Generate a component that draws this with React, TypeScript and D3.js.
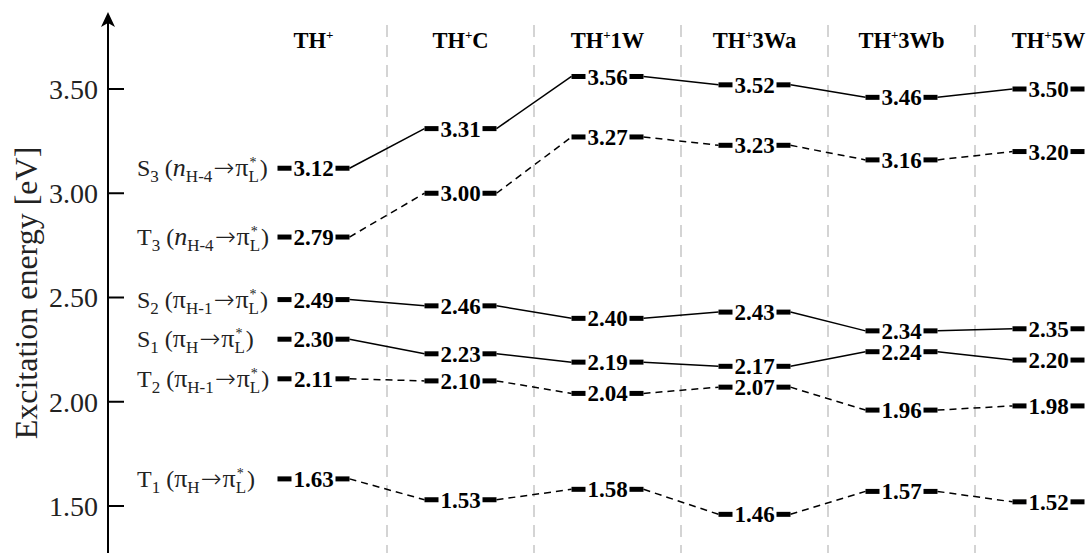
import React from 'react';
import * as d3 from 'd3';

// columns (systems)
const systems = ['TH+', 'TH+C', 'TH+1W', 'TH+3Wa', 'TH+3Wb', 'TH+5W'];

// excitation energies per state, one value per system
const S3 = [3.12, 3.31, 3.56, 3.52, 3.46, 3.5];
const T3 = [2.79, 3.0, 3.27, 3.23, 3.16, 3.2];
const S2 = [2.49, 2.46, 2.4, 2.43, 2.34, 2.35];
const S1 = [2.3, 2.23, 2.19, 2.17, 2.24, 2.2];
const T2 = [2.11, 2.1, 2.04, 2.07, 1.96, 1.98];
const T1 = [1.63, 1.53, 1.58, 1.46, 1.57, 1.52];

const yTicks = [1.5, 2.0, 2.5, 3.0, 3.5];

const states = [
  { spin: 'S', idx: '3', from: 'n', fromSub: 'H-4', values: S3, dashed: false },
  { spin: 'T', idx: '3', from: 'n', fromSub: 'H-4', values: T3, dashed: true },
  { spin: 'S', idx: '2', from: 'π', fromSub: 'H-1', values: S2, dashed: false },
  { spin: 'S', idx: '1', from: 'π', fromSub: 'H', values: S1, dashed: false },
  { spin: 'T', idx: '2', from: 'π', fromSub: 'H-1', values: T2, dashed: true },
  { spin: 'T', idx: '1', from: 'π', fromSub: 'H', values: T1, dashed: true },
];

const W = 1088;
const H = 553;
const axisX = 108;
const half = 36;

const App = () => {
  const y = d3.scaleLinear().domain([1.5, 3.5]).range([506, 89]);
  const x = d3.scaleBand().domain(systems).range([240, 1122]);
  const cx = (s: string) => (x(s) as number) + x.bandwidth() / 2;
  const fmt = d3.format('.2f');

  const dividers = systems.slice(1).map(s => x(s) as number);

  return (
    <svg
      width={W}
      height={H}
      style={{ position: 'absolute', left: 0, top: 0, background: '#fff', fontFamily: 'Liberation Serif' }}
    >
      {/* dashed column separators */}
      {dividers.map((d, i) => (
        <line key={i} x1={d} x2={d} y1={25} y2={H} stroke="#d4d4d4" strokeWidth={2} strokeDasharray="12,8" />
      ))}

      {/* column headers */}
      {systems.map(s => (
        <text key={s} x={cx(s)} y={48} textAnchor="middle" fontWeight="bold" fontSize={22.5}>
          TH
          <tspan fontSize={13} dy={-9}>+</tspan>
          <tspan dy={9}>{s.slice(3)}</tspan>
        </text>
      ))}

      {/* y axis */}
      <line x1={axisX} x2={axisX} y1={16} y2={H} stroke="#000" strokeWidth={2} />
      <path d={`M${axisX},12 L${axisX + 7},27 L${axisX},23 L${axisX - 7},27 Z`} fill="#000" />
      {yTicks.map(t => (
        <g key={t}>
          <line x1={axisX} x2={axisX + 16} y1={y(t)} y2={y(t)} stroke="#000" strokeWidth={2} />
          <text x={98} y={y(t)} dy="0.35em" textAnchor="end" fontSize={28} fill="#222">
            {fmt(t)}
          </text>
        </g>
      ))}
      <text
        transform={`translate(26,293) rotate(-90)`}
        textAnchor="middle"
        dy="0.35em"
        fontSize={32}
        fill="#222"
      >
        Excitation energy [eV]
      </text>

      {/* connecting lines */}
      {states.map((st, si) => (
        <g key={'c' + si}>
          {st.values.slice(1).map((v, i) => (
            <line
              key={i}
              x1={cx(systems[i]) + half}
              y1={y(st.values[i])}
              x2={cx(systems[i + 1]) - half}
              y2={y(v)}
              stroke="#000"
              strokeWidth={1.5}
              strokeDasharray={st.dashed ? '7,5' : undefined}
            />
          ))}
        </g>
      ))}

      {/* levels */}
      {states.map((st, si) => (
        <g key={'l' + si}>
          {st.values.map((v, i) => {
            const c = cx(systems[i]);
            return (
              <g key={i}>
                <rect x={c - half} y={y(v) - 2.5} width={half * 2} height={5} fill="#000" />
                <rect x={c - 22} y={y(v) - 10} width={44} height={20} fill="#fff" />
                <text x={c} y={y(v)} dy="0.35em" textAnchor="middle" fontWeight="bold" fontSize={23}>
                  {fmt(v)}
                </text>
              </g>
            );
          })}
        </g>
      ))}

      {/* state labels */}
      {states.map((st, si) => (
        <text key={'s' + si} x={137} y={y(st.values[0]) + 8} fontSize={24} fill="#222">
          {st.spin}
          <tspan fontSize={17} dy={6}>{st.idx}</tspan>
          <tspan dy={-6}> (</tspan>
          <tspan fontStyle={st.from === 'n' ? 'italic' : 'normal'} fontSize={26}>{st.from}</tspan>
          <tspan fontSize={17} dy={6}>{st.fromSub}</tspan>
          <tspan dy={-6} fontFamily="DejaVu Sans" fontWeight={300} fontSize={25} dx={1}>→</tspan>
          <tspan dx={1} fontSize={26}>π</tspan>
          <tspan fontSize={14} dy={-9} dx={1}>*</tspan>
          <tspan fontSize={17} dx={-8} dy={15}>L</tspan>
          <tspan dy={-6} dx={1}>)</tspan>
        </text>
      ))}
    </svg>
  );
};

export default App;
